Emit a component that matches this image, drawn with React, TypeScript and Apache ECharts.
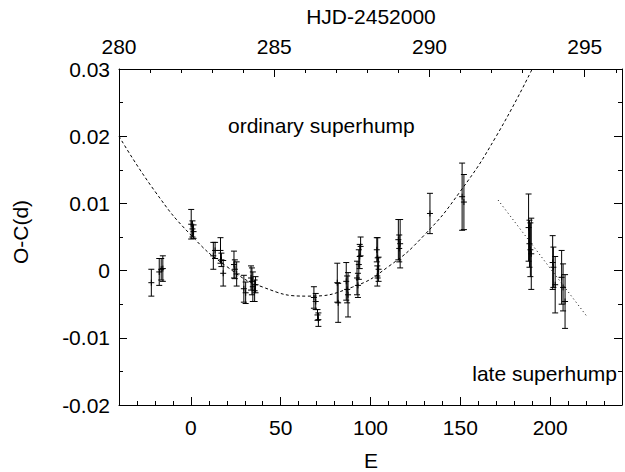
import React, { useEffect, useRef } from "react";
import * as echarts from "echarts";

const FONT = "'Liberation Sans', Arial, Helvetica, sans-serif";

// bottom axis (cycle number E) major tick labels
const eMajorTicks = [0, 50, 100, 150, 200];

// [E, O-C (d), error (d)]
const ordinaryPoints: [number, number, number][] = [
  [-22.0, -0.0018, 0.0020],
  [-17.6, -0.0002, 0.0020],
  [-16.5, 0.0002, 0.0016],
  [-15.6, 0.0003, 0.0019],
  [0.2, 0.0069, 0.0022],
  [0.9, 0.0062, 0.0012],
  [1.5, 0.0058, 0.0010],
  [12.5, 0.0022, 0.0020],
  [13.5, 0.0030, 0.0012],
  [16.5, 0.0030, 0.0019],
  [17.0, 0.0016, 0.0010],
  [18.0, -0.0004, 0.0019],
  [24.0, 0.0009, 0.0020],
  [24.5, 0.0002, 0.0014],
  [25.5, -0.0005, 0.0018],
  [29.5, -0.0027, 0.0020],
  [30.5, -0.0033, 0.0016],
  [33.5, -0.0011, 0.0018],
  [34.0, -0.0016, 0.0020],
  [34.5, -0.0024, 0.0022],
  [35.5, -0.0030, 0.0016],
  [36.0, -0.0021, 0.0012],
  [68.5, -0.0040, 0.0016],
  [69.5, -0.0046, 0.0012],
  [70.5, -0.0066, 0.0008],
  [71.0, -0.0073, 0.0010],
  [81.5, -0.0018, 0.0029],
  [82.0, -0.0048, 0.0029],
  [86.5, -0.0016, 0.0028],
  [87.0, -0.0028, 0.0020],
  [87.5, -0.0036, 0.0033],
  [92.5, -0.0011, 0.0025],
  [93.0, -0.0022, 0.0018],
  [93.5, 0.0009, 0.0022],
  [94.0, 0.0021, 0.0018],
  [94.5, 0.0036, 0.0014],
  [103.5, 0.0031, 0.0018],
  [104.0, 0.0019, 0.0030],
  [104.5, 0.0002, 0.0018],
  [103.8, -0.0008, 0.0015],
  [115.5, 0.0046, 0.0030],
  [116.0, 0.0033, 0.0020],
  [116.5, 0.0040, 0.0036],
  [133.1, 0.0085, 0.0030],
  [151.0, 0.0110, 0.0050],
  [152.0, 0.0102, 0.0041],
];

const latePoints: [number, number, number][] = [
  [188.0, 0.0064, 0.0050],
  [188.5, 0.0040, 0.0035],
  [189.0, 0.0031, 0.0040],
  [189.5, 0.0025, 0.0053],
  [201.4, 0.0012, 0.0040],
  [201.8, 0.0005, 0.0030],
  [202.8, -0.0021, 0.0042],
  [206.4, -0.0010, 0.0040],
  [207.2, -0.0025, 0.0035],
  [208.3, -0.0046, 0.0040],
];

// dashed curve for ordinary superhumps
const ordinaryCurve: [number, number][] = [
  [-40, 0.0200], [-20, 0.0118], [0, 0.0053], [20, 0.0006], [40, -0.00245],
  [65, -0.0038], [90, -0.00245], [110, 0.0006], [130, 0.0053], [150, 0.0118],
  [170, 0.0200], [190, 0.0300],
];

// dotted line for late superhumps
const lateLine: [number, number][] = [[171, 0.0105], [221, -0.0070]];

function renderErrorBar(params: any, api: any) {
  const x = api.value(0);
  const y = api.value(1);
  const e = api.value(2);
  const c = api.coord([x, y]);
  const t = api.coord([x, y + e]);
  const b = api.coord([x, y - e]);
  const cap = 3;
  const m = 3;
  const st = { stroke: "#000", lineWidth: 1 };
  return {
    type: "group",
    children: [
      { type: "line", shape: { x1: c[0], y1: t[1], x2: c[0], y2: b[1] }, style: st },
      { type: "line", shape: { x1: c[0] - cap, y1: t[1], x2: c[0] + cap, y2: t[1] }, style: st },
      { type: "line", shape: { x1: c[0] - cap, y1: b[1], x2: c[0] + cap, y2: b[1] }, style: st },
      { type: "line", shape: { x1: c[0] - m, y1: c[1], x2: c[0] + m, y2: c[1] }, style: st },
      { type: "line", shape: { x1: c[0], y1: c[1] - m, x2: c[0], y2: c[1] + m }, style: st },
    ],
  };
}

export default function App() {
  const ref = useRef<HTMLDivElement>(null);
  useEffect(() => {
    if (!ref.current) return;
    const chart = echarts.init(ref.current, null, { renderer: "svg" });
    const black = { color: "#000", width: 1 };
    const labelStyle = { fontSize: 21, color: "#000", fontFamily: FONT };
    chart.setOption({
      animation: false,
      backgroundColor: "#fff",
      grid: { left: 119, top: 69, right: 1, bottom: 67, containLabel: false },
      xAxis: [
        {
          type: "value", position: "bottom", min: -40, max: 240,
          axisLine: { show: true, onZero: false, lineStyle: black },
          axisTick: { show: true, inside: true, length: 8, customValues: eMajorTicks, lineStyle: black },
          axisLabel: { ...labelStyle, margin: 12, customValues: eMajorTicks },
          splitLine: { show: false },
        },
        {
          type: "value", position: "bottom", min: -40, max: 240, interval: 10,
          axisLine: { show: false, onZero: false },
          axisTick: { show: true, inside: true, length: 4, lineStyle: black },
          axisLabel: { show: false },
          splitLine: { show: false },
        },
        {
          type: "value", position: "top", min: 280, max: 296.2, interval: 5,
          axisLine: { show: true, onZero: false, lineStyle: black },
          axisTick: { show: true, inside: true, length: 8, lineStyle: black },
          axisLabel: {
            ...labelStyle, margin: 12,
            formatter: (v: number) => (Math.abs(v % 5) < 1e-6 ? String(v) : ""),
          },
          splitLine: { show: false },
        },
        {
          type: "value", position: "top", min: 280, max: 296.2, interval: 1,
          axisLine: { show: false, onZero: false },
          axisTick: { show: true, inside: true, length: 4, lineStyle: black },
          axisLabel: { show: false },
          splitLine: { show: false },
        },
      ],
      yAxis: [
        {
          type: "value", position: "left", min: -0.02, max: 0.03, interval: 0.01,
          axisLine: { show: true, onZero: false, lineStyle: black },
          axisTick: { show: true, inside: true, length: 8, lineStyle: black },
          minorTick: { show: true, splitNumber: 2, length: 4, lineStyle: black },
          axisLabel: {
            ...labelStyle, margin: 9,
            formatter: (v: number) => String(Number(v.toFixed(3))),
          },
          splitLine: { show: false },
        },
        {
          type: "value", position: "right", min: -0.02, max: 0.03, interval: 0.01,
          axisLine: { show: true, onZero: false, lineStyle: black },
          axisTick: { show: true, inside: true, length: 8, lineStyle: black },
          minorTick: { show: true, splitNumber: 2, length: 4, lineStyle: black },
          axisLabel: { show: false },
          splitLine: { show: false },
        },
      ],
      series: [
        {
          type: "line", xAxisIndex: 0, yAxisIndex: 0, data: ordinaryCurve,
          smooth: true, showSymbol: false, symbol: "none", clip: true,
          lineStyle: { color: "#000", width: 1, type: [3, 2.5] },
        },
        {
          type: "line", xAxisIndex: 0, yAxisIndex: 0, data: lateLine,
          showSymbol: false, symbol: "none", clip: true,
          lineStyle: { color: "#000", width: 1, type: [1, 3] },
        },
        {
          type: "custom", xAxisIndex: 0, yAxisIndex: 0,
          data: [...ordinaryPoints, ...latePoints],
          renderItem: renderErrorBar, clip: true,
          encode: { x: 0, y: 1 },
        },
      ],
      graphic: [
        { type: "text", x: 371, y: 16, style: { text: "HJD-2452000", font: `21px ${FONT}`, fill: "#000", textAlign: "center", textVerticalAlign: "middle" } },
        { type: "text", x: 371, y: 460, style: { text: "E", font: `21px ${FONT}`, fill: "#000", textAlign: "center", textVerticalAlign: "middle" } },
        { type: "text", x: 20, y: 232, rotation: Math.PI / 2, style: { text: "O-C(d)", font: `21px ${FONT}`, fill: "#000", textAlign: "center", textVerticalAlign: "middle" } },
        { type: "text", x: 228, y: 125, style: { text: "ordinary superhump", font: `21px ${FONT}`, fill: "#000", textAlign: "left", textVerticalAlign: "middle" } },
        { type: "text", x: 617, y: 373, style: { text: "late superhump", font: `21px ${FONT}`, fill: "#000", textAlign: "right", textVerticalAlign: "middle" } },
      ],
    });
    return () => chart.dispose();
  }, []);
  return (
    <div
      ref={ref}
      style={{ position: "absolute", left: 0, top: 0, width: 625, height: 472, background: "#fff" }}
    />
  );
}
